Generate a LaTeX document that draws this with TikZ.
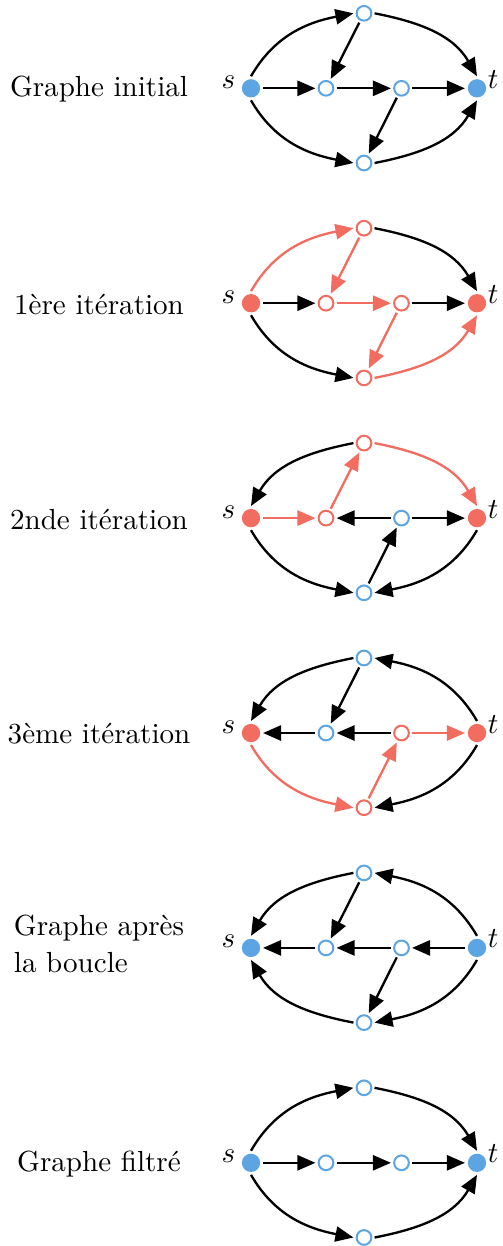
\documentclass[tikz,border=0pt]{standalone}
\usetikzlibrary{arrows.meta}
\definecolor{nblue}{RGB}{93,165,226}
\definecolor{nred}{RGB}{242,108,95}
\begin{document}
\begin{tikzpicture}[x=0.344pt,y=0.344pt,
  vopen/.style={circle, draw=nblue, line width=0.69pt, fill=white, minimum size=5.06pt, inner sep=0pt, outer sep=1.1pt},
  ropen/.style={vopen, draw=nred},
  vfull/.style={circle, fill=nblue, minimum size=6.3pt, inner sep=0pt, outer sep=1.0pt},
  rfull/.style={vfull, fill=nred},
  edge/.style={line width=0.8pt, color=black, -{Triangle[length=6.2pt,width=5.2pt]}},
  redge/.style={edge, color=nred},
  slbl/.style={anchor=base east, inner sep=0pt},
  tlbl/.style={anchor=base west, inner sep=0pt},
  captxt/.style={inner sep=0pt, align=left},
  su/.style={out=60, in=191},
  us/.style={out=191, in=60},
  ut/.style={out=-11, in=120},
  tu/.style={out=120, in=-11},
  sd/.style={out=-60, in=169},
  ds/.style={out=169, in=-60},
  dt/.style={out=11, in=-120},
  td/.style={out=-120, in=11},
]
\useasboundingbox (0,0) rectangle (503,-1246);

% ---------- Graph 1 ----------
\node[vfull] (s1) at (251,-88.3) {};
\node[vopen] (a1) at (326,-88.3) {};
\node[vopen] (b1) at (401.5,-88.3) {};
\node[vfull] (t1) at (477,-88.3) {};
\node[vopen] (u1) at (364,-13.3) {};
\node[vopen] (d1) at (364,-163) {};
\node[slbl] (sl1) at ([xshift=-5.2pt]s1.center) {$s$};
\node[tlbl] (tl1) at ([xshift=3.5pt]t1.center) {$t$};
\node[captxt] (g1) at (99,-89.4) {Graphe initial};
\draw[edge] (s1.north) to[su] (u1.west);
\draw[edge] (u1.east) to[ut] (t1.north);
\draw[edge] (s1.south) to[sd] (d1.west);
\draw[edge] (d1.east) to[dt] (t1.south);
\draw[edge] (s1) -- (a1);
\draw[edge] (a1) -- (b1);
\draw[edge] (b1) -- (t1);
\draw[edge] (u1) -- (a1);
\draw[edge] (b1) -- (d1);

% ---------- Graph 2 ----------
\node[rfull] (s2) at (251,-303.2) {};
\node[ropen] (a2) at (326,-303.2) {};
\node[ropen] (b2) at (401.5,-303.2) {};
\node[rfull] (t2) at (477,-303.2) {};
\node[ropen] (u2) at (364,-228.2) {};
\node[ropen] (d2) at (364,-377.9) {};
\node[slbl] (sl2) at ([xshift=-5.2pt]s2.center) {$s$};
\node[tlbl] (tl2) at ([xshift=3.5pt]t2.center) {$t$};
\node[captxt] (g2) at (99,-304.3) {1ère itération};
\draw[redge] (s2.north) to[su] (u2.west);
\draw[edge] (u2.east) to[ut] (t2.north);
\draw[edge] (s2.south) to[sd] (d2.west);
\draw[redge] (d2.east) to[dt] (t2.south);
\draw[edge] (s2) -- (a2);
\draw[redge] (a2) -- (b2);
\draw[edge] (b2) -- (t2);
\draw[redge] (u2) -- (a2);
\draw[redge] (b2) -- (d2);

% ---------- Graph 3 ----------
\node[rfull] (s3) at (251,-518.1) {};
\node[ropen] (a3) at (326,-518.1) {};
\node[vopen] (b3) at (401.5,-518.1) {};
\node[rfull] (t3) at (477,-518.1) {};
\node[ropen] (u3) at (364,-443.1) {};
\node[vopen] (d3) at (364,-592.8) {};
\node[slbl] (sl3) at ([xshift=-5.2pt]s3.center) {$s$};
\node[tlbl] (tl3) at ([xshift=3.5pt]t3.center) {$t$};
\node[captxt] (g3) at (99,-519.2) {2nde itération};
\draw[edge] (u3.west) to[us] (s3.north);
\draw[redge] (u3.east) to[ut] (t3.north);
\draw[edge] (s3.south) to[sd] (d3.west);
\draw[edge] (t3.south) to[td] (d3.east);
\draw[redge] (s3) -- (a3);
\draw[edge] (b3) -- (a3);
\draw[edge] (b3) -- (t3);
\draw[redge] (a3) -- (u3);
\draw[edge] (d3) -- (b3);

% ---------- Graph 4 ----------
\node[rfull] (s4) at (251,-733) {};
\node[vopen] (a4) at (326,-733) {};
\node[ropen] (b4) at (401.5,-733) {};
\node[rfull] (t4) at (477,-733) {};
\node[vopen] (u4) at (364,-658) {};
\node[ropen] (d4) at (364,-807.7) {};
\node[slbl] (sl4) at ([xshift=-5.2pt]s4.center) {$s$};
\node[tlbl] (tl4) at ([xshift=3.5pt]t4.center) {$t$};
\node[captxt] (g4) at (99,-734.1) {3ème itération};
\draw[edge] (u4.west) to[us] (s4.north);
\draw[edge] (t4.north) to[tu] (u4.east);
\draw[redge] (s4.south) to[sd] (d4.west);
\draw[edge] (t4.south) to[td] (d4.east);
\draw[edge] (a4) -- (s4);
\draw[edge] (b4) -- (a4);
\draw[redge] (b4) -- (t4);
\draw[edge] (u4) -- (a4);
\draw[redge] (d4) -- (b4);

% ---------- Graph 5 ----------
\node[vfull] (s5) at (251,-947.9) {};
\node[vopen] (a5) at (326,-947.9) {};
\node[vopen] (b5) at (401.5,-947.9) {};
\node[vfull] (t5) at (477,-947.9) {};
\node[vopen] (u5) at (364,-872.9) {};
\node[vopen] (d5) at (364,-1022.6) {};
\node[slbl] (sl5) at ([xshift=-5.2pt]s5.center) {$s$};
\node[tlbl] (tl5) at ([xshift=3.5pt]t5.center) {$t$};
\node[captxt] (g5) at (99,-944) {Graphe après\\[1pt]la boucle};
\draw[edge] (u5.west) to[us] (s5.north);
\draw[edge] (t5.north) to[tu] (u5.east);
\draw[edge] (d5.west) to[ds] (s5.south);
\draw[edge] (t5.south) to[td] (d5.east);
\draw[edge] (a5) -- (s5);
\draw[edge] (b5) -- (a5);
\draw[edge] (t5) -- (b5);
\draw[edge] (u5) -- (a5);
\draw[edge] (b5) -- (d5);

% ---------- Graph 6 ----------
\node[vfull] (s6) at (251,-1162.8) {};
\node[vopen] (a6) at (326,-1162.8) {};
\node[vopen] (b6) at (401.5,-1162.8) {};
\node[vfull] (t6) at (477,-1162.8) {};
\node[vopen] (u6) at (364,-1087.8) {};
\node[vopen] (d6) at (364,-1237.5) {};
\node[slbl] (sl6) at ([xshift=-5.2pt]s6.center) {$s$};
\node[tlbl] (tl6) at ([xshift=3.5pt]t6.center) {$t$};
\node[captxt] (g6) at (99,-1163.9) {Graphe filtré};
\draw[edge] (s6.north) to[su] (u6.west);
\draw[edge] (u6.east) to[ut] (t6.north);
\draw[edge] (s6.south) to[sd] (d6.west);
\draw[edge] (d6.east) to[dt] (t6.south);
\draw[edge] (s6) -- (a6);
\draw[edge] (a6) -- (b6);
\draw[edge] (b6) -- (t6);
\end{tikzpicture}
\end{document}
